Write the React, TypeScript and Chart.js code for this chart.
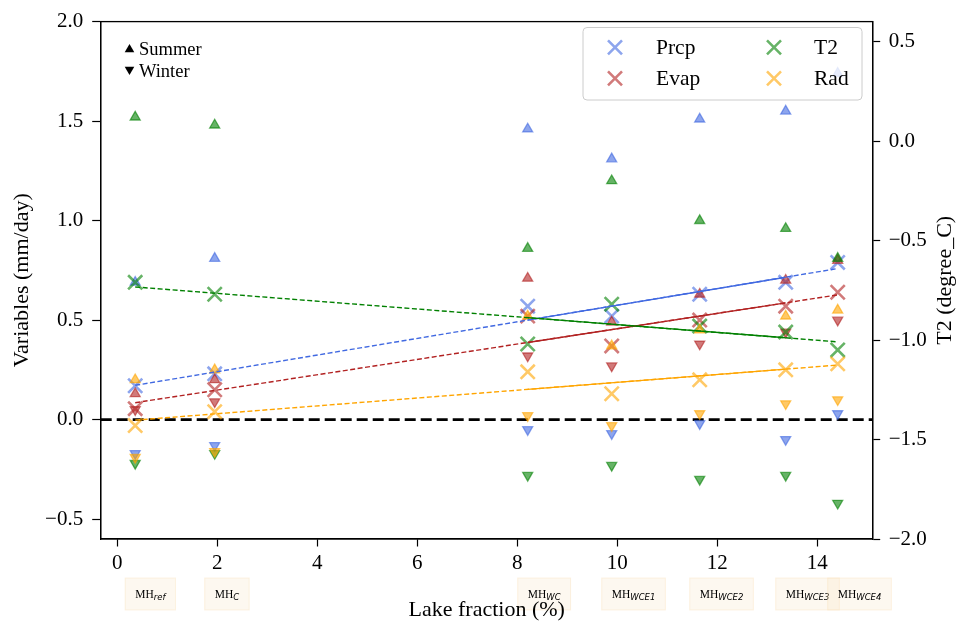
import React, { useEffect, useRef } from 'react';
import { Chart, registerables } from 'chart.js';

Chart.register(...registerables);

// ---------------- data ----------------
const caseSubscripts = ['ref', 'C', 'WC', 'WCE1', 'WCE2', 'WCE3', 'WCE4'];
const lakeFraction = [0.36, 1.95, 8.21, 9.89, 11.65, 13.37, 14.41];

const prcpSummer = [0.69, 0.81, 1.46, 1.31, 1.51, 1.55, 1.74];
const prcpWinter = [-0.17, -0.13, -0.05, -0.07, -0.02, -0.1, 0.03];
const prcpAnnual = [0.17, 0.23, 0.57, 0.52, 0.63, 0.69, 0.79];

const evapSummer = [0.13, 0.2, 0.71, 0.49, 0.63, 0.7, 0.8];
const evapWinter = [0.05, 0.09, 0.32, 0.27, 0.38, 0.44, 0.5];
const evapAnnual = [0.055, 0.15, 0.52, 0.37, 0.5, 0.57, 0.64];

// T2 in degree_C (right axis)
const t2Summer = [0.12, 0.08, -0.54, -0.2, -0.4, -0.44, -0.59];
const t2Winter = [-1.62, -1.57, -1.68, -1.63, -1.7, -1.68, -1.82];
const t2Annual = [-0.71, -0.77, -1.02, -0.82, -0.93, -0.96, -1.05];

const radSummer = [0.2, 0.25, 0.52, 0.37, 0.45, 0.52, 0.55];
const radWinter = [-0.19, -0.16, 0.02, -0.03, 0.03, 0.08, 0.1];
const radAnnual = [-0.03, 0.04, 0.24, 0.13, 0.2, 0.25, 0.28];

const seriesNames = ['Prcp', 'Evap', 'T2', 'Rad'];
const seasonLabels = ['Summer', 'Winter'];

const xTickValues = [0, 2, 4, 6, 8, 10, 12, 14];
const leftTickValues = [-0.5, 0, 0.5, 1, 1.5, 2];
const rightTickValues = [-2, -1.5, -1, -0.5, 0, 0.5];
const zeroLineValue = 0;

const X_MIN = -0.33;
const X_MAX = 15.11;
const Y_MIN = -0.6;
const Y_MAX = 2.0;
const Y2_MIN = -2.0;
const Y2_MAX = 0.6;

// ---------------- styles ----------------
const SERIF = '"Liberation Serif", "Times New Roman", serif';
const seriesRGB: Record<string, number[]> = {
  Prcp: [65, 105, 225],
  Evap: [178, 34, 34],
  T2: [0, 128, 0],
  Rad: [255, 165, 0],
};
const rgba = (c: number[], a: number) => `rgba(${c[0]},${c[1]},${c[2]},${a})`;

const seriesData: Record<string, { summer: number[]; winter: number[]; annual: number[]; axis: string }> = {
  Prcp: { summer: prcpSummer, winter: prcpWinter, annual: prcpAnnual, axis: 'y' },
  Evap: { summer: evapSummer, winter: evapWinter, annual: evapAnnual, axis: 'y' },
  T2: { summer: t2Summer, winter: t2Winter, annual: t2Annual, axis: 'y2' },
  Rad: { summer: radSummer, winter: radWinter, annual: radAnnual, axis: 'y' },
};

function linFit(xs: number[], ys: number[]) {
  const n = xs.length;
  const mx = xs.reduce((s, v) => s + v, 0) / n;
  const my = ys.reduce((s, v) => s + v, 0) / n;
  let sxy = 0;
  let sxx = 0;
  for (let i = 0; i < n; i++) {
    sxy += (xs[i] - mx) * (ys[i] - my);
    sxx += (xs[i] - mx) * (xs[i] - mx);
  }
  const b = sxy / sxx;
  return (x: number) => my + b * (x - mx);
}

const fmt = (v: number) => (v < 0 ? '\u2212' + Math.abs(v).toFixed(1) : v.toFixed(1));

function buildDatasets() {
  const ds: any[] = [];
  let seq = 0;
  const pts = (ys: number[]) => ys.map((y, i) => ({ x: lakeFraction[i], y }));
  ds.push({
    label: 'zero',
    data: [
      { x: X_MIN, y: zeroLineValue },
      { x: X_MAX, y: zeroLineValue },
    ],
    yAxisID: 'y',
    showLine: true,
    borderColor: '#000',
    borderWidth: 2.8,
    borderDash: [11, 5],
    pointRadius: 0,
    order: -seq++,
  });
  seriesNames.forEach((name) => {
    const s = seriesData[name];
    const c = seriesRGB[name];
    ds.push({
      label: name + ' summer',
      data: pts(s.summer),
      yAxisID: s.axis,
      showLine: false,
      pointStyle: 'triangle',
      pointRadius: 5.8,
      pointBorderWidth: 1.3,
      pointBackgroundColor: rgba(c, 0.6),
      pointBorderColor: rgba(c, 0.6),
      order: -seq++,
    });
    ds.push({
      label: name + ' winter',
      data: pts(s.winter),
      yAxisID: s.axis,
      showLine: false,
      pointStyle: 'triangle',
      pointRotation: 180,
      pointRadius: 5.8,
      pointBorderWidth: 1.3,
      pointBackgroundColor: rgba(c, 0.6),
      pointBorderColor: rgba(c, 0.6),
      order: -seq++,
    });
    ds.push({
      label: name,
      data: pts(s.annual),
      yAxisID: s.axis,
      showLine: false,
      pointStyle: 'crossRot',
      pointRadius: 10,
      pointBorderWidth: 2.6,
      pointBackgroundColor: rgba(c, 0.6),
      pointBorderColor: rgba(c, 0.6),
      order: -seq++,
    });
  });
  seriesNames.forEach((name) => {
    const s = seriesData[name];
    const c = seriesRGB[name];
    const f = linFit(lakeFraction, s.annual);
    const n = lakeFraction.length;
    const x0 = lakeFraction[0];
    const x1 = lakeFraction[n - 1];
    ds.push({
      label: name + ' fit',
      data: [
        { x: x0, y: f(x0) },
        { x: x1, y: f(x1) },
      ],
      yAxisID: s.axis,
      showLine: true,
      borderColor: rgba(c, 1),
      borderWidth: 1.4,
      borderDash: [5, 2.5],
      pointRadius: 0,
      order: -seq++,
    });
    const xa = lakeFraction[2];
    const xb = lakeFraction[n - 2];
    ds.push({
      label: name + ' fit solid',
      data: [
        { x: xa, y: f(xa) },
        { x: xb, y: f(xb) },
      ],
      yAxisID: s.axis,
      showLine: true,
      borderColor: rgba(c, 1),
      borderWidth: 1.4,
      pointRadius: 0,
      order: -seq++,
    });
  });
  return ds;
}

const decorPlugin = {
  id: 'decor',
  afterDatasetsDraw(chart: any) {
    const { ctx, chartArea: a } = chart;
    ctx.save();
    ctx.strokeStyle = '#000';
    ctx.lineWidth = 1.3;
    ctx.setLineDash([]);
    ctx.strokeRect(a.left, a.top, a.right - a.left, a.bottom - a.top);

    // season legend (top-left)
    ctx.fillStyle = '#000';
    const tx = 129.5;
    [48.5, 70.5].forEach((cy, i) => {
      ctx.beginPath();
      if (i === 0) {
        ctx.moveTo(tx, cy - 4.6);
        ctx.lineTo(tx + 4.8, cy + 3.7);
        ctx.lineTo(tx - 4.8, cy + 3.7);
      } else {
        ctx.moveTo(tx, cy + 4.6);
        ctx.lineTo(tx + 4.8, cy - 3.7);
        ctx.lineTo(tx - 4.8, cy - 3.7);
      }
      ctx.closePath();
      ctx.fill();
    });
    ctx.font = `18.5px ${SERIF}`;
    ctx.textAlign = 'left';
    ctx.textBaseline = 'alphabetic';
    ctx.fillText(seasonLabels[0], 139, 55);
    ctx.fillText(seasonLabels[1], 139, 77.3);

    // series legend box (top-right)
    const bx = 583;
    const by = 27.5;
    const bw = 279;
    const bh = 72.5;
    ctx.beginPath();
    ctx.roundRect(bx, by, bw, bh, 4);
    ctx.fillStyle = 'rgba(255,255,255,0.8)';
    ctx.fill();
    ctx.strokeStyle = 'rgb(204,204,204)';
    ctx.lineWidth = 1;
    ctx.stroke();
    const cols = [615, 774];
    const textCols = [656, 814];
    const rows = [47.3, 78.3];
    const baselines = [53.8, 85.3];
    ctx.font = `21.5px ${SERIF}`;
    seriesNames.forEach((name, i) => {
      const col = Math.floor(i / 2);
      const row = i % 2;
      const cx = cols[col];
      const cy = rows[row];
      ctx.strokeStyle = rgba(seriesRGB[name], 0.6);
      ctx.lineWidth = 2.6;
      ctx.beginPath();
      ctx.moveTo(cx - 7, cy - 7);
      ctx.lineTo(cx + 7, cy + 7);
      ctx.moveTo(cx - 7, cy + 7);
      ctx.lineTo(cx + 7, cy - 7);
      ctx.stroke();
      ctx.fillStyle = '#000';
      ctx.fillText(name, textCols[col], baselines[row]);
    });
    ctx.restore();
  },
  afterDraw(chart: any) {
    const { ctx, chartArea: a, scales } = chart;
    ctx.save();
    // case labels below the x axis
    const mainFont = `11.5px ${SERIF}`;
    const subFont = `italic 8.5px "DejaVu Sans", sans-serif`;
    lakeFraction.forEach((xv, i) => {
      const px = scales.x.getPixelForValue(xv);
      ctx.font = mainFont;
      const wMain = ctx.measureText('MH').width;
      ctx.font = subFont;
      const wSub = ctx.measureText(caseSubscripts[i]).width;
      const x0 = px - 10;
      const w = wMain + wSub + 20;
      ctx.fillStyle = 'rgba(245,222,179,0.2)';
      ctx.strokeStyle = 'rgba(245,222,179,0.35)';
      ctx.lineWidth = 1;
      ctx.fillRect(x0, 578, w, 32);
      ctx.strokeRect(x0, 578, w, 32);
      ctx.fillStyle = '#000';
      ctx.textAlign = 'left';
      ctx.textBaseline = 'alphabetic';
      ctx.font = mainFont;
      ctx.fillText('MH', px, 597.5);
      ctx.font = subFont;
      ctx.fillText(caseSubscripts[i], px + wMain, 600);
    });

    // axis titles
    ctx.fillStyle = '#000';
    ctx.font = `22px ${SERIF}`;
    ctx.textAlign = 'center';
    ctx.textBaseline = 'alphabetic';
    ctx.fillText('Lake fraction (%)', (a.left + a.right) / 2, 616);
    const cy = (a.top + a.bottom) / 2;
    ctx.save();
    ctx.translate(28, cy);
    ctx.rotate(-Math.PI / 2);
    ctx.fillText('Variables (mm/day)', 0, 0);
    ctx.restore();
    ctx.save();
    ctx.translate(951, cy);
    ctx.rotate(-Math.PI / 2);
    ctx.fillText('T2 (degree_C)', 0, 0);
    ctx.restore();
    ctx.restore();
  },
};

export default function App() {
  const ref = useRef<HTMLCanvasElement | null>(null);
  useEffect(() => {
    if (!ref.current) return;
    const tickFont = { family: SERIF, size: 21 };
    const chart = new Chart(ref.current, {
      type: 'scatter',
      data: { datasets: buildDatasets() },
      options: {
        responsive: false,
        animation: false,
        events: [],
        layout: { padding: { top: 15, left: 0, right: 0, bottom: 0 } },
        plugins: { legend: { display: false }, tooltip: { enabled: false } },
        scales: {
          x: {
            type: 'linear',
            min: X_MIN,
            max: X_MAX,
            afterBuildTicks: (s: any) => {
              s.ticks = xTickValues.map((v) => ({ value: v }));
            },
            afterFit: (s: any) => {
              s.height = 86;
            },
            ticks: {
              font: tickFont,
              color: '#000',
              padding: 4,
              maxRotation: 0,
              autoSkip: false,
              callback: (v: any) => String(v),
            },
            grid: { drawOnChartArea: false, drawTicks: true, tickLength: 7.5, tickColor: '#000', tickWidth: 1.2 },
            border: { display: true, color: '#000', width: 1.3 },
          },
          y: {
            type: 'linear',
            position: 'left',
            min: Y_MIN,
            max: Y_MAX,
            afterBuildTicks: (s: any) => {
              s.ticks = leftTickValues.map((v) => ({ value: v }));
            },
            afterFit: (s: any) => {
              s.width = 100.7;
            },
            ticks: { font: tickFont, color: '#000', padding: 9, callback: (v: any) => fmt(Number(v)) },
            grid: { drawOnChartArea: false, drawTicks: true, tickLength: 8.5, tickColor: '#000', tickWidth: 1.2 },
            border: { display: true, color: '#000', width: 1.3 },
          },
          y2: {
            type: 'linear',
            position: 'right',
            min: Y2_MIN,
            max: Y2_MAX,
            afterBuildTicks: (s: any) => {
              s.ticks = rightTickValues.map((v) => ({ value: v }));
            },
            afterFit: (s: any) => {
              s.width = 86.3;
            },
            ticks: { font: tickFont, color: '#000', padding: 8.5, callback: (v: any) => fmt(Number(v)) },
            grid: { drawOnChartArea: false, drawTicks: true, tickLength: 7.5, tickColor: '#000', tickWidth: 1.2 },
            border: { display: true, color: '#000', width: 1.3 },
          },
        },
      },
      plugins: [decorPlugin],
    } as any);
    return () => chart.destroy();
  }, []);
  return (
    <div style={{ position: 'absolute', left: 0, top: 0, width: 959, height: 625, background: '#fff' }}>
      <canvas ref={ref} width={959} height={625} style={{ width: 959, height: 625, display: 'block' }} />
    </div>
  );
}
